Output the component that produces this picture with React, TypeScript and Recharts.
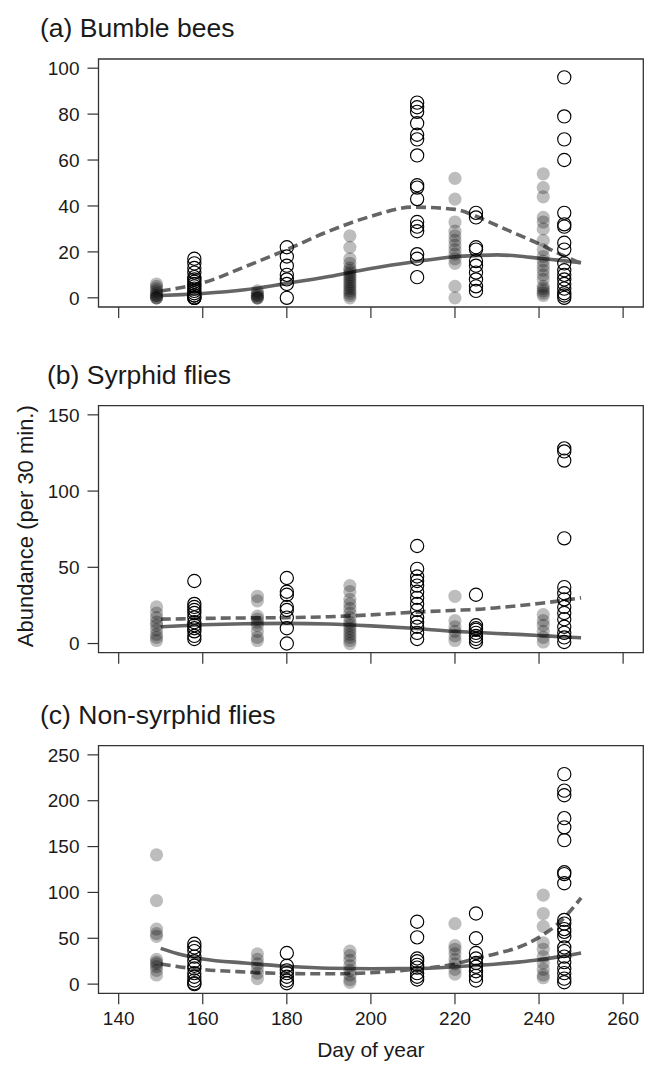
import React from 'react';
import {
  ComposedChart,
  Scatter,
  Line,
  XAxis,
  YAxis,
  ReferenceArea,
} from 'recharts';

/* ------------------------------------------------------------------ */
/* Data                                         */
/* ------------------------------------------------------------------ */

// sampling days: grey filled dots and open circles alternate
const FILLED_DAYS = [149, 173, 195, 220, 241];
const OPEN_DAYS = [158, 180, 211, 225, 246];

// days at which the fitted curves were read
const CURVE_DAYS = [150, 155, 160, 170, 180, 190, 200, 210, 220, 225, 230, 235, 240, 245, 250];

const X_TICKS = [140, 160, 180, 200, 220, 240, 260];

// (a) Bumble bees
const beeFilled = [
  [6, 5, 4, 3, 2, 1, 1, 0, 0, 0],
  [3, 2, 1, 1, 0, 0, 0],
  [27, 22, 17, 15, 13, 12, 11, 10, 9, 8, 7, 6, 5, 4, 3, 2, 1, 0],
  [52, 43, 33, 29, 27, 25, 23, 21, 19, 17, 15, 5, 0],
  [54, 48, 44, 35, 33, 30, 25, 21, 18, 16, 14, 12, 10, 8, 5, 4, 3, 2, 1],
];
const beeOpen = [
  [17, 15, 13, 11, 9, 8, 7, 6, 5, 4, 3, 2, 1, 1, 0, 0, 0],
  [22, 18, 14, 10, 8, 6, 0],
  [85, 83, 81, 76, 71, 69, 62, 49, 48, 43, 33, 31, 29, 19, 17, 9],
  [37, 35, 22, 21, 16, 14, 11, 8, 5, 3],
  [96, 79, 69, 60, 37, 32, 31, 24, 21, 15, 12, 10, 8, 6, 4, 2, 1, 0],
];
const beeSolid = [1, 1.4, 1.9, 3.5, 6.3, 9.3, 12.8, 15.6, 17.9, 18.4, 18.7, 18.2, 17.2, 16.3, 15.3];
const beeDashed = [3, 4.5, 6.5, 13.5, 21, 29, 35.5, 39.5, 38.5, 35.5, 31.5, 27.5, 23.5, 19, 15];
const BEE_Y_TICKS = [0, 20, 40, 60, 80, 100];

// (b) Syrphid flies
const syrFilled = [
  [24, 20, 17, 14, 12, 9, 6, 4, 2],
  [31, 28, 18, 16, 14, 12, 8, 4, 2],
  [38, 34, 29, 26, 23, 20, 17, 14, 12, 10, 8, 6, 4, 2, 0],
  [31, 15, 11, 8, 5, 2],
  [19, 15, 12, 8, 4, 1],
];
const syrOpen = [
  [41, 26, 24, 22, 20, 17, 14, 12, 10, 8, 5, 3],
  [43, 34, 32, 24, 22, 17, 10, 0],
  [64, 49, 44, 41, 38, 34, 30, 26, 22, 17, 14, 11, 7, 3],
  [32, 12, 10, 9, 7, 5, 3, 1],
  [128, 126, 120, 69, 37, 33, 29, 24, 20, 16, 11, 7, 4, 1],
];
const syrSolid = [11, 11.7, 12.3, 13, 13.2, 12.8, 11.6, 10, 8, 7.3, 6.6, 6, 5.3, 4.5, 3.8];
const syrDashed = [16, 16.2, 16.5, 16.8, 17, 17.6, 18.8, 20.5, 21.8, 22.4, 23.5, 24.8, 26.3, 28, 30];
const SYR_Y_TICKS = [0, 50, 100, 150];

// (c) Non-syrphid flies
const nonFilled = [
  [141, 91, 60, 55, 52, 27, 24, 22, 19, 15, 10],
  [33, 27, 22, 17, 12, 6],
  [36, 31, 26, 20, 15, 10, 5, 2],
  [66, 42, 38, 33, 27, 22, 16, 11],
  [97, 77, 63, 45, 38, 30, 23, 16, 10, 7],
];
const nonOpen = [
  [44, 40, 36, 30, 25, 20, 17, 12, 8, 4, 1, 0],
  [34, 20, 15, 12, 8, 4, 1],
  [68, 51, 28, 25, 21, 18, 12, 8, 5],
  [77, 50, 34, 28, 23, 19, 14, 9, 4],
  [229, 211, 206, 181, 171, 157, 122, 120, 110, 70, 66, 60, 57, 52, 40, 36, 30, 24, 17, 12, 6, 2],
];
const nonSolid = [39, 32, 27.5, 23, 19.5, 17.3, 16.8, 17, 19, 20.5, 22, 24, 26.5, 30, 34];
const nonDashed = [22, 18.5, 16, 13.3, 11.6, 11.3, 12.5, 16, 22, 28, 33.5, 40, 51, 68, 94];
const NON_Y_TICKS = [0, 50, 100, 150, 200, 250];

/* ------------------------------------------------------------------ */
/* Styling                                                             */
/* ------------------------------------------------------------------ */

const FONT = '"Liberation Sans", Arial, Helvetica, sans-serif';
const INK = '#1a1a1a';
const AXIS = '#333333';
const CURVE = '#656565';
const R = 6.6;
const WIDTH = 645;
const Y_AXIS_W = 98.5;
const PLOT_RIGHT = 643.3;

/* ------------------------------------------------------------------ */
/* Helpers                                                             */
/* ------------------------------------------------------------------ */

// R's default axis range: pad limits by 4% on both ends
function pad(lo: number, hi: number): [number, number] {
  const d = (hi - lo) * 0.04;
  return [lo - d, hi + d];
}

const X_DOMAIN = pad(140, 260);

function toPoints(days: number[], groups: number[][]) {
  return days.flatMap((day, i) => groups[i].map((v) => ({ x: day, y: v })));
}

function toCurve(values: number[]) {
  return CURVE_DAYS.map((day, i) => ({ x: day, y: values[i] }));
}

const FilledDot = (props: any) => (
  <circle cx={props.cx} cy={props.cy} r={R} fill="#000" fillOpacity={0.26} stroke="none" />
);

const OpenDot = (props: any) => (
  <circle cx={props.cx} cy={props.cy} r={R} fill="none" stroke="#000" strokeWidth={1.15} />
);

/* ------------------------------------------------------------------ */
/* Panel                                                               */
/* ------------------------------------------------------------------ */

interface PanelProps {
  top: number;
  plotTop: number;
  plotHeight: number;
  xAxisHeight: number;
  yMax: number;
  yTicks: number[];
  filled: number[][];
  open: number[][];
  solid: number[];
  dashed: number[];
  xLabels?: boolean;
  yLabel?: string;
}

function Panel({
  top,
  plotTop,
  plotHeight,
  xAxisHeight,
  yMax,
  yTicks,
  filled,
  open,
  solid,
  dashed,
  xLabels,
  yLabel,
}: PanelProps) {
  const yDomain = pad(0, yMax);
  const marginTop = plotTop - top;
  const height = marginTop + plotHeight + xAxisHeight;
  const tickStyle = { fontSize: 19, fill: INK, fontFamily: FONT };

  return (
    <div style={{ position: 'absolute', left: 0, top }}>
      <ComposedChart
        width={WIDTH}
        height={height}
        margin={{ top: marginTop, right: WIDTH - PLOT_RIGHT, bottom: 0, left: 0 }}
      >
        <XAxis
          type="number"
          dataKey="x"
          domain={X_DOMAIN}
          ticks={X_TICKS}
          interval={0}
          allowDataOverflow
          axisLine={false}
          tickLine={{ stroke: AXIS, strokeWidth: 1.2 }}
          tickSize={11}
          tickMargin={7}
          height={xAxisHeight}
          tick={tickStyle}
          tickFormatter={xLabels ? (v: number) => String(v) : () => ''}
          label={
            xLabels
              ? {
                  value: 'Day of year',
                  position: 'insideBottom',
                  offset: 8,
                  style: { fontSize: 21, fill: INK, fontFamily: FONT },
                }
              : undefined
          }
        />
        <YAxis
          type="number"
          dataKey="y"
          domain={yDomain}
          ticks={yTicks}
          interval={0}
          allowDataOverflow
          axisLine={false}
          tickLine={{ stroke: AXIS, strokeWidth: 1.2 }}
          tickSize={11}
          tickMargin={8}
          width={Y_AXIS_W}
          tick={tickStyle}
          label={
            yLabel
              ? {
                  value: yLabel,
                  angle: -90,
                  position: 'insideLeft',
                  offset: 25,
                  dy: -3,
                  style: { fontSize: 22, fill: INK, fontFamily: FONT, textAnchor: 'middle' },
                }
              : undefined
          }
        />
        <ReferenceArea
          x1={X_DOMAIN[0]}
          x2={X_DOMAIN[1]}
          y1={yDomain[0]}
          y2={yDomain[1]}
          fill="none"
          stroke={AXIS}
          strokeWidth={1.3}
          ifOverflow="visible"
        />
        <Scatter
          data={toPoints(FILLED_DAYS, filled)}
          shape={FilledDot}
          isAnimationActive={false}
        />
        <Scatter data={toPoints(OPEN_DAYS, open)} shape={OpenDot} isAnimationActive={false} />
        <Line
          data={toCurve(solid)}
          dataKey="y"
          type="monotone"
          stroke={CURVE}
          strokeWidth={3.6}
          dot={false}
          activeDot={false}
          isAnimationActive={false}
        />
        <Line
          data={toCurve(dashed)}
          dataKey="y"
          type="monotone"
          stroke={CURVE}
          strokeWidth={3.6}
          strokeDasharray="10 5"
          dot={false}
          activeDot={false}
          isAnimationActive={false}
        />
      </ComposedChart>
    </div>
  );
}

/* ------------------------------------------------------------------ */
/* App                                                                 */
/* ------------------------------------------------------------------ */

const titleStyle = { fontSize: 26.5, fill: INK, fontFamily: FONT };

export default function App() {
  return (
    <div
      style={{
        position: 'absolute',
        left: 0,
        top: 0,
        width: WIDTH,
        height: 1065,
        background: '#fff',
        overflow: 'hidden',
      }}
    >
      <Panel
        top={0}
        plotTop={59}
        plotHeight={248}
        xAxisHeight={23}
        yMax={100}
        yTicks={BEE_Y_TICKS}
        filled={beeFilled}
        open={beeOpen}
        solid={beeSolid}
        dashed={beeDashed}
      />
      <Panel
        top={340}
        plotTop={405.7}
        plotHeight={247}
        xAxisHeight={23}
        yMax={150}
        yTicks={SYR_Y_TICKS}
        filled={syrFilled}
        open={syrOpen}
        solid={syrSolid}
        dashed={syrDashed}
        yLabel="Abundance (per 30 min.)"
      />
      <Panel
        top={690}
        plotTop={745.7}
        plotHeight={247.6}
        xAxisHeight={71.7}
        yMax={250}
        yTicks={NON_Y_TICKS}
        filled={nonFilled}
        open={nonOpen}
        solid={nonSolid}
        dashed={nonDashed}
        xLabels
      />
      <svg
        width={WIDTH}
        height={1065}
        style={{ position: 'absolute', left: 0, top: 0, pointerEvents: 'none' }}
      >
        <text x={40} y={37} {...titleStyle}>
          (a) Bumble bees
        </text>
        <text x={47} y={384} {...titleStyle}>
          (b) Syrphid flies
        </text>
        <text x={40} y={724} {...titleStyle}>
          (c) Non-syrphid flies
        </text>
      </svg>
    </div>
  );
}
